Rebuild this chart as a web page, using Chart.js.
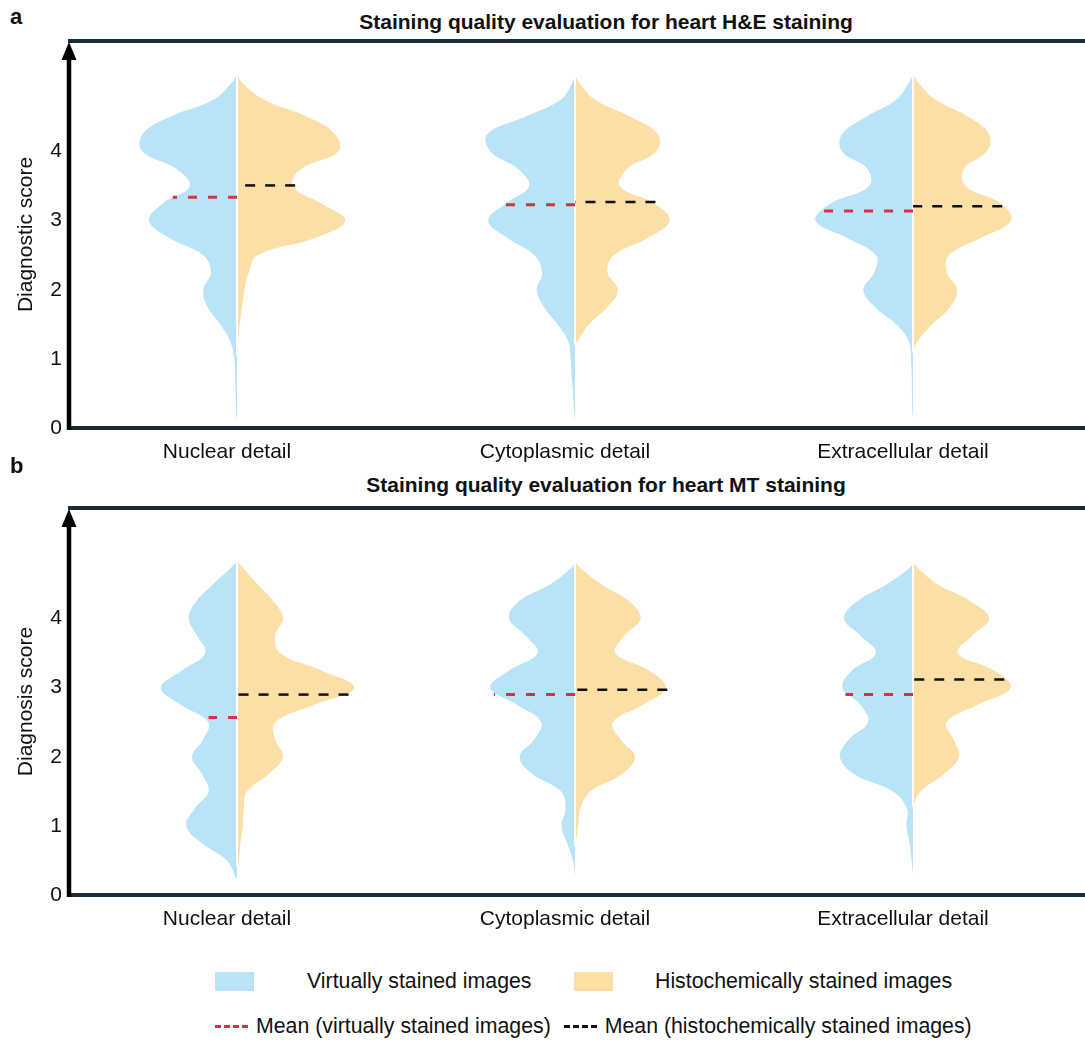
<!DOCTYPE html>
<html>
<head>
<meta charset="utf-8">
<script src="https://cdn.jsdelivr.net/npm/chart.js@4.4.1/dist/chart.umd.min.js"></script>
<style>
  body { margin: 0; background: #fff; font-family: "Liberation Sans", Arial, sans-serif; color: #111; }
  #page { position: relative; width: 1085px; height: 1042px; overflow: hidden; }
  canvas { position: absolute; left: 0; }
  .txt { position: absolute; white-space: nowrap; line-height: 1; }
  .panel { font-size: 22px; font-weight: bold; left: 10px; }
  .title { font-size: 21px; font-weight: bold; left: 606px; transform: translateX(-50%); }
  .leg { font-size: 21.3px; }
  .swatch { position: absolute; width: 39px; height: 19px; }
  .row2 { position: absolute; left: 215px; top: 1016px; display: flex; align-items: center; font-size: 21.3px; line-height: 1; }
  .dash { width: 36px; height: 3px; margin-right: 5px; }
</style>
</head>
<body>
<div id="page">
  <div class="txt panel" style="top:6px">a</div>
  <div class="txt title" style="top:11px">Staining quality evaluation for heart H&amp;E staining</div>
  <canvas id="chartA" width="1085" height="465" style="top:0"></canvas>

  <div class="txt panel" style="top:455px">b</div>
  <div class="txt title" style="top:474px">Staining quality evaluation for heart MT staining</div>
  <canvas id="chartB" width="1085" height="465" style="top:467px"></canvas>

  <div class="swatch" style="left:215px;top:972px;background:#b9e4f8"></div>
  <div class="txt leg" style="left:307px;top:971px">Virtually stained images</div>
  <div class="swatch" style="left:574px;top:972px;background:#fcdfa7"></div>
  <div class="txt leg" style="left:655px;top:971px">Histochemically stained images</div>

  <div class="row2">
    <div class="dash" style="background:repeating-linear-gradient(to right,#d9303f 0 6px,transparent 6px 9px)"></div>
    <span>Mean (virtually stained images)</span>
    <div class="dash" style="margin-left:13px;background:repeating-linear-gradient(to right,#111 0 6px,transparent 6px 9px)"></div>
    <span>Mean (histochemically stained images)</span>
  </div>
</div>

<script>
const categories = ["Nuclear detail", "Cytoplasmic detail", "Extracellular detail"];
const yTicks = [0, 1, 2, 3, 4];
const scoreLevels = [0.25, 0.5, 0.75, 1, 1.25, 1.5, 1.75, 2, 2.25, 2.5, 2.75, 3, 3.25, 3.5, 3.75, 4, 4.25, 4.5, 4.75, 5];

// half widths of each violin side at scoreLevels (x-axis units)
const heVirtualNuclear = [0.003, 0.004, 0.005, 0.008, 0.02, 0.05, 0.087, 0.1, 0.077, 0.1, 0.2, 0.26, 0.22, 0.14, 0.18, 0.28, 0.28, 0.2, 0.07, 0.015];
const heHistoNuclear = [0, 0, 0, 0, 0.003, 0.008, 0.015, 0.022, 0.035, 0.06, 0.23, 0.32, 0.25, 0.165, 0.19, 0.3, 0.29, 0.21, 0.08, 0.015];
const heVirtualCyto = [0.003, 0.006, 0.01, 0.013, 0.02, 0.052, 0.092, 0.113, 0.097, 0.12, 0.2, 0.257, 0.205, 0.136, 0.17, 0.25, 0.26, 0.15, 0.042, 0.008];
const heHistoCyto = [0, 0, 0, 0, 0.007, 0.041, 0.096, 0.127, 0.096, 0.115, 0.215, 0.28, 0.235, 0.133, 0.155, 0.24, 0.245, 0.165, 0.06, 0.012];
const heVirtualExtra = [0.002, 0.003, 0.004, 0.006, 0.012, 0.05, 0.113, 0.147, 0.115, 0.11, 0.195, 0.288, 0.243, 0.13, 0.135, 0.21, 0.21, 0.14, 0.05, 0.012];
const heHistoExtra = [0, 0, 0, 0.002, 0.013, 0.057, 0.11, 0.13, 0.1, 0.106, 0.2, 0.29, 0.26, 0.156, 0.15, 0.218, 0.225, 0.165, 0.067, 0.015];

const mtVirtualNuclear = [0.003, 0.03, 0.104, 0.15, 0.125, 0.084, 0.104, 0.133, 0.1, 0.085, 0.165, 0.225, 0.163, 0.094, 0.118, 0.143, 0.12, 0.07, 0.015, 0];
const mtHistoNuclear = [0, 0.005, 0.01, 0.017, 0.02, 0.03, 0.094, 0.136, 0.113, 0.113, 0.227, 0.347, 0.25, 0.128, 0.113, 0.136, 0.108, 0.06, 0.015, 0];
const mtVirtualCyto = [0.001, 0.006, 0.023, 0.04, 0.028, 0.042, 0.126, 0.164, 0.121, 0.1, 0.17, 0.25, 0.195, 0.111, 0.146, 0.195, 0.166, 0.072, 0.008, 0];
const mtHistoCyto = [0, 0, 0.002, 0.009, 0.016, 0.046, 0.14, 0.177, 0.135, 0.112, 0.2, 0.268, 0.219, 0.12, 0.145, 0.194, 0.16, 0.076, 0.012, 0];
const mtVirtualExtra = [0.001, 0.004, 0.01, 0.019, 0.018, 0.061, 0.175, 0.216, 0.19, 0.133, 0.155, 0.209, 0.18, 0.11, 0.155, 0.204, 0.165, 0.076, 0.007, 0];
const mtHistoExtra = [0, 0, 0, 0, 0.002, 0.023, 0.092, 0.136, 0.12, 0.099, 0.19, 0.289, 0.24, 0.133, 0.175, 0.225, 0.17, 0.072, 0.011, 0];

// violin extents
const heTop = [5.12, 5.12, 5.12];
const heVirtualBottom = [0.09, 0.09, 0.12];
const heHistoBottom = [1.05, 1.2, 1.09];
const mtTop = [4.83, 4.83, 4.83];
const mtVirtualBottom = [0.22, 0.27, 0.27];
const mtHistoBottom = [0.41, 0.7, 1.28];

// means and the violin width at the mean
const heVirtualMean = [3.34, 3.23, 3.14];
const heHistoMean = [3.51, 3.27, 3.21];
const heVirtualMeanWidth = [0.19, 0.205, 0.263];
const heHistoMeanWidth = [0.172, 0.238, 0.264];
const mtVirtualMean = [2.57, 2.9, 2.9];
const mtHistoMean = [2.9, 2.97, 3.12];
const mtVirtualMeanWidth = [0.084, 0.24, 0.2];
const mtHistoMeanWidth = [0.33, 0.273, 0.27];

const BLUE = "#b9e4f8";
const ORANGE = "#fcdfa7";
const RED = "#d9303f";

Chart.defaults.font.family = '"Liberation Sans", Arial, sans-serif';
Chart.defaults.color = "#111";

function halfViolin(center, side, widths, bottom, top) {
  const pts = [{ x: center, y: bottom }];
  scoreLevels.forEach((level, k) => {
    if (level > bottom && level < top) pts.push({ x: center + side * widths[k], y: level });
  });
  pts.push({ x: center, y: top });
  return pts;
}

function violinSide(points, color) {
  return {
    data: points,
    backgroundColor: color,
    borderWidth: 0,
    fill: "shape",
    tension: 0.4,
    order: 3
  };
}

function buildDatasets(virtual, histo, vBottom, hBottom, tops, vMean, hMean, vMeanW, hMeanW) {
  const sets = [];
  categories.forEach((cat, i) => {
    sets.push(violinSide(halfViolin(i, -1, virtual[i], vBottom[i], tops[i]), BLUE));
    sets.push(violinSide(halfViolin(i, 1, histo[i], hBottom[i], tops[i]), ORANGE));
    sets.push({ data: [{ x: i, y: Math.max(vBottom[i], hBottom[i]) }, { x: i, y: tops[i] }], borderColor: "#fff", borderWidth: 2, order: 2 });
    sets.push({ data: [{ x: i, y: vMean[i] }, { x: i - vMeanW[i], y: vMean[i] }], borderColor: RED, borderWidth: 3, borderDash: [9, 11], order: 1 });
    sets.push({ data: [{ x: i + hMeanW[i], y: hMean[i] }, { x: i, y: hMean[i] }], borderColor: "#111", borderWidth: 2.5, borderDash: [10, 10], order: 1 });
  });
  return sets;
}

const framePlugin = {
  id: "frame",
  afterDatasetsDraw(chart) {
    const { ctx, chartArea: a } = chart;
    ctx.save();
    ctx.strokeStyle = "#1b2d38";
    ctx.lineWidth = 4;
    ctx.beginPath();
    ctx.moveTo(a.left, a.top);
    ctx.lineTo(chart.width, a.top);
    ctx.moveTo(a.left, a.bottom);
    ctx.lineTo(chart.width, a.bottom);
    ctx.stroke();
    const ax = a.left + 1;
    ctx.strokeStyle = "#000";
    ctx.lineWidth = 4.5;
    ctx.beginPath();
    ctx.moveTo(ax, a.bottom + 2);
    ctx.lineTo(ax, a.top + 16);
    ctx.stroke();
    ctx.fillStyle = "#000";
    ctx.beginPath();
    ctx.moveTo(ax, a.top + 1);
    ctx.lineTo(ax - 7.5, a.top + 19);
    ctx.lineTo(ax + 7.5, a.top + 19);
    ctx.closePath();
    ctx.fill();
    ctx.restore();
  }
};

function makeChart(id, yTitle, datasets) {
  return new Chart(document.getElementById(id), {
    type: "line",
    data: { datasets: datasets },
    plugins: [framePlugin],
    options: {
      responsive: false,
      animation: false,
      events: [],
      layout: { padding: { top: 41, right: 3, left: 0, bottom: 0 } },
      elements: { point: { radius: 0 }, line: { tension: 0 } },
      plugins: { legend: { display: false }, tooltip: { enabled: false } },
      scales: {
        x: {
          type: "linear",
          min: -0.5,
          max: 2.5,
          grid: { display: false, drawTicks: false },
          border: { display: false },
          afterBuildTicks: (scale) => { scale.ticks = categories.map((c, i) => ({ value: i })); },
          afterFit: (scale) => { scale.height = 37; },
          ticks: {
            font: { size: 21 },
            color: "#111",
            padding: 12,
            labelOffset: -10,
            maxRotation: 0,
            callback: (value) => categories[value]
          }
        },
        y: {
          type: "linear",
          min: 0,
          max: 5.6,
          grid: { display: false, drawTicks: false },
          border: { display: false },
          afterBuildTicks: (scale) => { scale.ticks = yTicks.map((v) => ({ value: v })); },
          afterFit: (scale) => { scale.width = 68; },
          ticks: { font: { size: 21 }, color: "#111", padding: 6 },
          title: { display: true, text: yTitle, font: { size: 21 }, color: "#111", padding: { top: 14, bottom: 0 } }
        }
      }
    }
  });
}

makeChart("chartA", "Diagnostic score",
  buildDatasets(
    [heVirtualNuclear, heVirtualCyto, heVirtualExtra],
    [heHistoNuclear, heHistoCyto, heHistoExtra],
    heVirtualBottom, heHistoBottom, heTop,
    heVirtualMean, heHistoMean, heVirtualMeanWidth, heHistoMeanWidth));

makeChart("chartB", "Diagnosis score",
  buildDatasets(
    [mtVirtualNuclear, mtVirtualCyto, mtVirtualExtra],
    [mtHistoNuclear, mtHistoCyto, mtHistoExtra],
    mtVirtualBottom, mtHistoBottom, mtTop,
    mtVirtualMean, mtHistoMean, mtVirtualMeanWidth, mtHistoMeanWidth));
</script>
</body>
</html>
